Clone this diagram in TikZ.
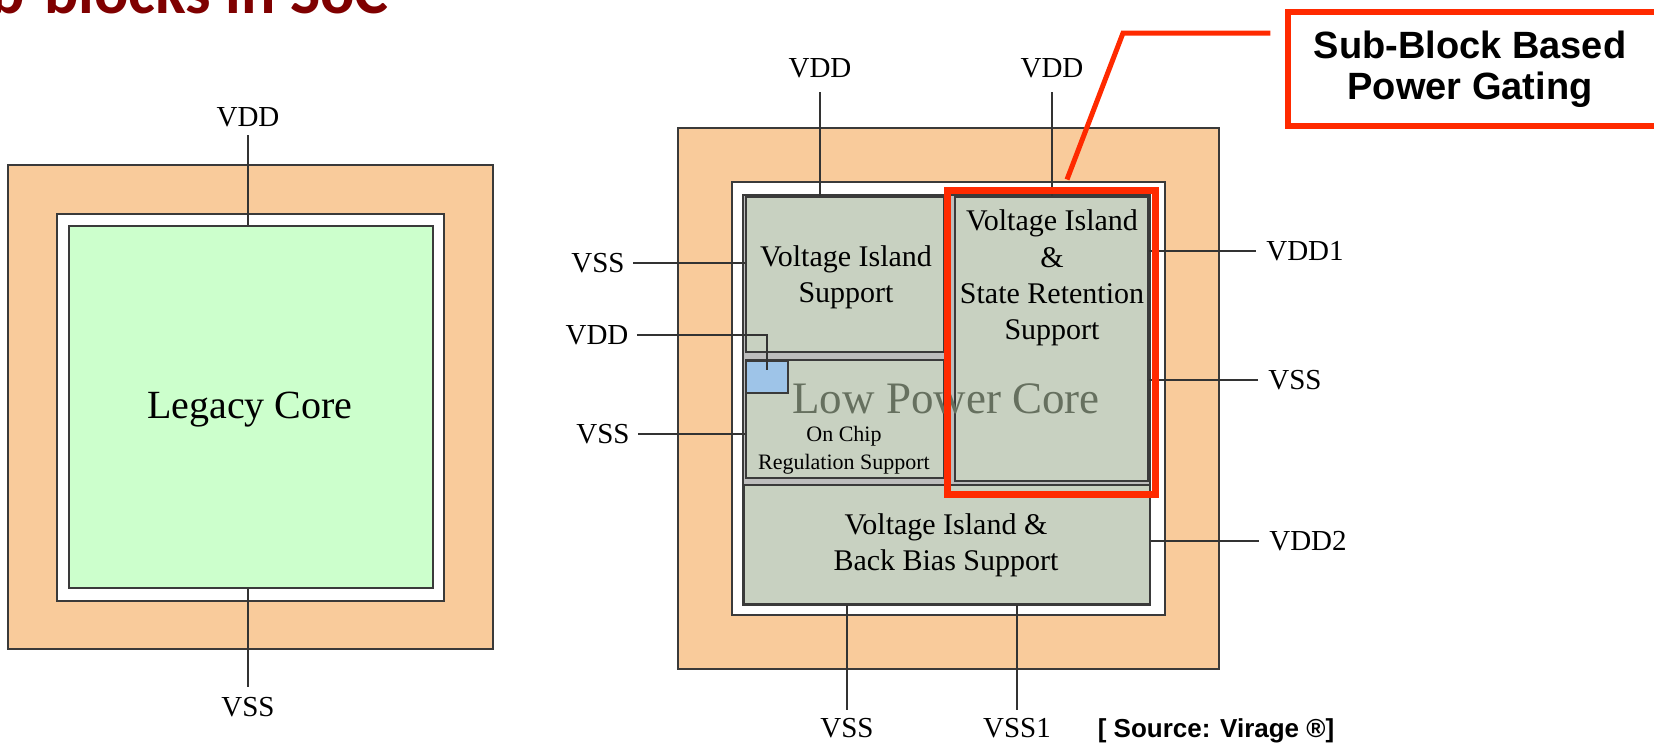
\documentclass[tikz,border=0pt]{standalone}
\usepackage{fontspec}
\setmainfont{Liberation Serif}
\newfontfamily\calloutfont{Liberation Sans}
\newfontfamily\titlefont{Carlito}
\usetikzlibrary{positioning,calc,fit}
\definecolor{padorange}{HTML}{F9CB9B}
\definecolor{coregreen}{HTML}{CCFFCC}
\definecolor{blkgrey}{HTML}{C8D1C1}
\definecolor{gapgrey}{HTML}{BDBDBD}
\definecolor{ldoblue}{HTML}{9EC4E8}
\definecolor{gatered}{HTML}{FF2A00}
\definecolor{edgegrey}{HTML}{3A3A3A}
\definecolor{titlered}{HTML}{7F0000}
\definecolor{coretext}{HTML}{66705F}
\tikzset{
  padring/.style={draw=edgegrey, fill=padorange, line width=0.6pt, inner sep=0pt},
  isoring/.style={padring, fill=white},
  legacyblk/.style={padring, fill=coregreen},
  subblk/.style={draw=edgegrey, fill=blkgrey, line width=0.8pt, inner sep=0pt},
  gapfill/.style={subblk, fill=gapgrey},
  ldoblk/.style={subblk, fill=ldoblue},
  gatering/.style={draw=gatered, line width=3.5pt, inner sep=0pt},
  callbox/.style={draw=gatered, line width=2.6pt, fill=white, inner sep=0pt},
  pinlbl/.style={font=\fontsize{14.5}{17}\selectfont, inner sep=0pt},
  blktxt/.style={font=\fontsize{15}{18.2}\selectfont, align=center, inner sep=0pt},
  wire/.style={draw=black!80, line width=0.55pt},
  gateline/.style={draw=gatered, line width=2.5pt},
}

\begin{document}
\begin{tikzpicture}[x=0.5pt, y=-0.5pt]
  \useasboundingbox (0,0) rectangle (1654,744);

  % --- title (cut at the top) ---
  \node[anchor=base east, inner sep=0pt, text=titlered,
        font=\titlefont\bfseries\fontsize{32}{38}\selectfont] (title) at (389,13) {Sub-blocks in SoC};

  % --- legacy core ---
  \node[padring, fit={(8,165)(493,649)}] (padL) {};
  \node[isoring, fit={(57,214)(444,601)}] (ringL) {};
  \node[legacyblk, fit={(69,226)(433,588)}] (coreL) {};
  \node[font=\fontsize{20}{24}\selectfont, inner sep=0pt] (legacy) at (250,410) {Legacy Core};
  \node[pinlbl] (vddL) at (248,117) {VDD};
  \node[pinlbl] (vssL) at (248,707) {VSS};
  \draw[wire, shorten <=4pt] (vddL.south) -- (vddL.south |- coreL.north);
  \draw[wire, shorten <=5pt] (vssL.north) -- (vssL.north |- coreL.south);

  % --- low power core ---
  \node[padring, fit={(678,128)(1219,669)}] (padR) {};
  \node[isoring, fit={(732,182)(1165,615)}] (ringR) {};
  \node[gapfill, fit={(743,195)(1150,605)}] (baseR) {};
  \node[subblk, fit={(746,197)(944,352)}] (blkA) {};
  \node[subblk, fit={(746,360)(944,478)}] (blkB) {};
  \node[subblk, fit={(955,197)(1148,481)}] (blkC) {};
  \node[subblk, fit={(744,485)(1150,604)}] (blkD) {};
  \node[ldoblk, fit={(746,361)(788,393)}] (ldo) {};

  \node[blktxt] (txtA) at (846,277) {Voltage Island\\Support};
  \node[blktxt] (txtC) at (1052,278) {Voltage Island\\\&\\State Retention\\Support};
  \node[blktxt] (txtD) at (946,545) {Voltage Island \&\\Back Bias Support};
  \node[align=center, inner sep=0pt, font=\fontsize{11}{14}\selectfont] (txtB) at (844,450) {On Chip\\Regulation Support};
  \node[inner sep=0pt, text=coretext, font=\fontsize{22.5}{27}\selectfont] (lpc) at (946,399) {Low Power Core};

  % pins
  \node[pinlbl] (vddA) at (820,68) {VDD};
  \node[pinlbl] (vddC) at (1052,68) {VDD};
  \node[pinlbl] (vssA) at (598,263) {VSS};
  \node[pinlbl] (vddB) at (597,335) {VDD};
  \node[pinlbl] (vssB) at (603,434) {VSS};
  \node[pinlbl] (vdd1) at (1305,251) {VDD1};
  \node[pinlbl] (vssC) at (1295,380) {VSS};
  \node[pinlbl] (vdd2) at (1308,541) {VDD2};
  \node[pinlbl] (vssD) at (847,728) {VSS};
  \node[pinlbl] (vss1) at (1017,728) {VSS1};

  \draw[wire, shorten <=7pt] (vddA.south) -- (vddA.south |- blkA.north);
  \draw[wire, shorten <=7pt] (vddC.south) -- (vddC.south |- blkC.north);
  \draw[wire, shorten <=4pt] (vssA.east) -- (vssA.east -| blkA.west);
  \draw[wire, shorten <=4pt] (vddB.east) -| ($(ldo.center)+(0,-7)$);
  \draw[wire, shorten <=4pt] (vssB.east) -- (vssB.east -| blkB.west);
  \draw[wire, shorten <=5pt] (vdd1.west) -- (vdd1.west -| blkC.east);
  \draw[wire, shorten <=5pt] (vssC.west) -- (vssC.west -| blkC.east);
  \draw[wire, shorten <=5pt] (vdd2.west) -- (vdd2.west -| blkD.east);
  \draw[wire, shorten <=4pt] (vssD.north) -- (vssD.north |- blkD.south);
  \draw[wire, shorten <=4pt] (vss1.north) -- (vss1.north |- blkD.south);

  % --- sub-block callout ---
  \node[gatering, fit={(947,190)(1155,494)}] (gate) {};
  \node[callbox, fit={(1288,12)(1664,126)}] (callout) {};
  \node[align=center, inner sep=0pt, font=\calloutfont\bfseries\fontsize{19}{20.5}\selectfont]
    (calltxt) at (1470,69) {Sub-Block Based\\Power Gating};
  \coordinate (bend) at (1123,33);
  \draw[gateline] ($(gate.north)+(16,-7)$) -- (bend) -- ([xshift=-7.5pt]bend -| callout.west);

  \node[inner sep=0pt, font=\calloutfont\bfseries\fontsize{13}{15}\selectfont] (src) at (1216,731) {[ Source: Virage ®]};
\end{tikzpicture}
\end{document}
